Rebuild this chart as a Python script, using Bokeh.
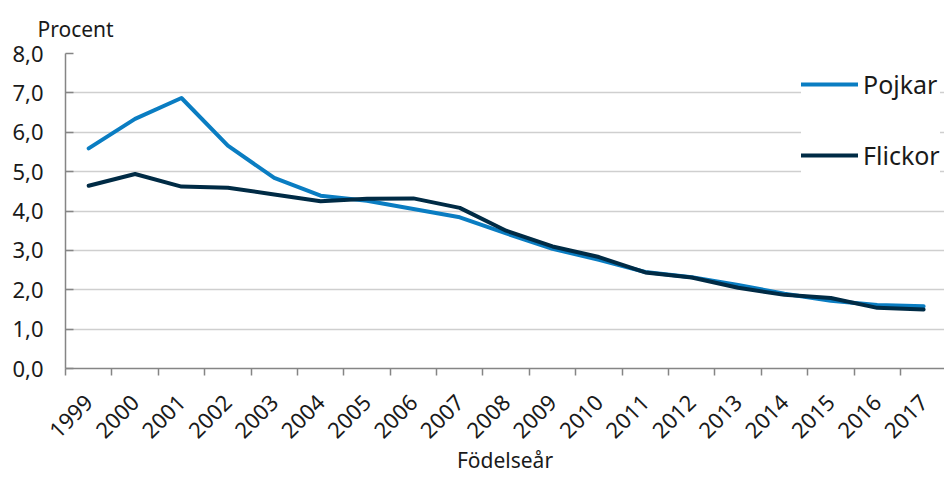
import math
from bokeh.plotting import figure
from bokeh.models import Range1d, FixedTicker, Title
from bokeh.embed import file_html
from bokeh.resources import INLINE

years = ["1999", "2000", "2001", "2002", "2003", "2004", "2005", "2006", "2007", "2008",
         "2009", "2010", "2011", "2012", "2013", "2014", "2015", "2016", "2017"]
pojkar = [5.59, 6.34, 6.87, 5.66, 4.84, 4.39, 4.26, 4.05, 3.84, 3.43,
          3.04, 2.76, 2.45, 2.32, 2.12, 1.90, 1.72, 1.61, 1.58]
flickor = [4.64, 4.94, 4.62, 4.59, 4.42, 4.25, 4.31, 4.32, 4.08, 3.50,
           3.10, 2.83, 2.44, 2.31, 2.05, 1.87, 1.79, 1.54, 1.50]
y_ticks = [0, 1, 2, 3, 4, 5, 6, 7, 8]
y_tick_labels = ["0,0", "1,0", "2,0", "3,0", "4,0", "5,0", "6,0", "7,0", "8,0"]

FONT = "Noto Sans"
BLUE = "#0a7dc2"
NAVY = "#002b45"
AXIS = "#858585"
GRID = "#cfcfcf"
TXT = "#1a1a1a"

xs = list(range(len(years)))

p = figure(width=944, height=477, output_backend="svg", toolbar_location=None,
           x_range=Range1d(-0.5, 18.45), y_range=Range1d(0, 8),
           min_border_left=65, min_border_right=0, min_border_top=53, min_border_bottom=109)
p.outline_line_color = None
p.background_fill_color = "white"

p.line(xs, pojkar, line_width=4, color=BLUE, line_join="round", line_cap="round", legend_label="Pojkar")
p.line(xs, flickor, line_width=4, color=NAVY, line_join="round", line_cap="round", legend_label="Flickor")

# x axis
p.xaxis.ticker = FixedTicker(ticks=xs, minor_ticks=[i - 0.5 for i in range(len(years) + 1)])
p.xaxis.major_label_overrides = {i: y for i, y in enumerate(years)}
p.xaxis.major_label_orientation = math.pi / 4
p.xaxis.major_tick_out = 0
p.xaxis.major_tick_in = 0
p.xaxis.minor_tick_out = 7
p.xaxis.minor_tick_in = 0
p.xaxis.minor_tick_line_color = AXIS
p.xaxis.minor_tick_line_width = 1.5
p.xaxis.axis_line_color = AXIS
p.xaxis.axis_line_width = 1.5
p.xaxis.major_label_standoff = 23
p.xaxis.major_label_text_font = FONT
p.xaxis.major_label_text_font_size = "22px"
p.xaxis.major_label_text_color = TXT
p.xaxis.axis_label = "Födelseår"
p.xaxis.axis_label_text_font = FONT
p.xaxis.axis_label_text_font_size = "21px"
p.xaxis.axis_label_text_font_style = "normal"
p.xaxis.axis_label_text_color = TXT
p.xaxis.axis_label_standoff = -2
p.xgrid.grid_line_color = None

# y axis
p.yaxis.ticker = FixedTicker(ticks=y_ticks)
p.yaxis.major_label_overrides = {t: l for t, l in zip(y_ticks, y_tick_labels)}
p.yaxis.major_tick_in = 8
p.yaxis.major_tick_out = 0
p.yaxis.major_tick_line_color = AXIS
p.yaxis.major_tick_line_width = 1.5
p.yaxis.minor_tick_line_color = None
p.yaxis.axis_line_color = AXIS
p.yaxis.axis_line_width = 1.5
p.yaxis.major_label_standoff = 22
p.yaxis.major_label_text_font = FONT
p.yaxis.major_label_text_font_size = "22px"
p.yaxis.major_label_text_color = TXT
p.ygrid.ticker = FixedTicker(ticks=y_ticks)
p.ygrid.grid_line_color = GRID
p.ygrid.grid_line_width = 1.5

p.add_layout(Title(text="Procent", align="left", offset=-28, standoff=22,
                   text_font=FONT, text_font_size="21px", text_font_style="normal",
                   text_color=TXT), "above")

lg = p.legend[0]
lg.location = (736, 189)
lg.background_fill_color = "white"
lg.background_fill_alpha = 1.0
lg.border_line_color = None
lg.padding = 10
lg.margin = 0
lg.glyph_width = 57
lg.glyph_height = 48
lg.label_standoff = 5
lg.spacing = 23
lg.label_text_font = FONT
lg.label_text_font_size = "25px"
lg.label_text_color = TXT

open("out.html", "w").write(file_html(p, INLINE))
